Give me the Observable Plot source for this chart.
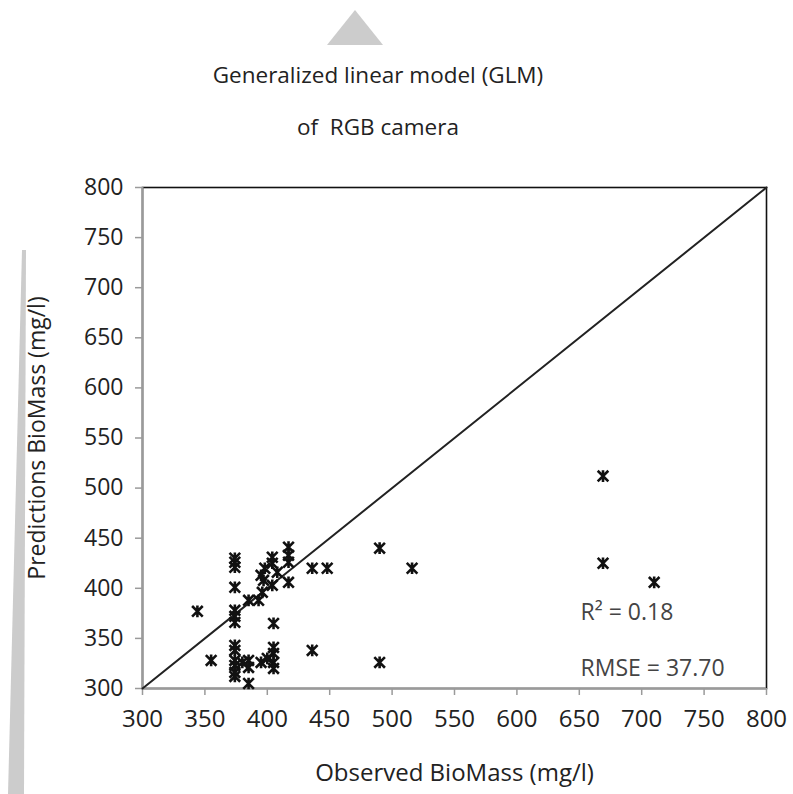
<!DOCTYPE html>
<html>
<head>
<meta charset="utf-8">
<script src="https://cdn.jsdelivr.net/npm/d3@7"></script>
<script src="https://cdn.jsdelivr.net/npm/@observablehq/plot@0.6"></script>
<style>
  html, body { margin: 0; padding: 0; background: #fff; }
  #wrap { position: relative; width: 793px; height: 794px; overflow: hidden; font-family: "Open Sans", sans-serif; }
  .title { position: absolute; left: 0; width: 756px; text-align: center; font-size: 22.5px; color: #222; }
  #deco { position: absolute; left: 0; top: 0; }
</style>
</head>
<body>
<div id="wrap">
  <svg id="deco" width="793" height="794">
    <polygon points="355,10 327,45 383,45" fill="#cccccc"></polygon>
    <polygon points="22,250 26,250 24,794 8,794" fill="#cccccc"></polygon>
  </svg>
  <div class="title" style="top:59px;">Generalized linear model (GLM)</div>
  <div class="title" style="top:111px;">of&nbsp; RGB camera</div>
  <div id="chart" style="position:absolute;left:0;top:0;"></div>
</div>
<script>
// Observed vs predicted biomass (mg/l)
const observed = [344, 355, 374, 374, 374, 374, 374, 374, 374, 374, 374, 374, 374, 374, 374,
  380, 385, 385, 385, 385, 395, 395, 396, 393, 398, 397, 404, 404, 404, 405, 405, 405, 405, 405,
  408, 417, 417, 417, 417, 400, 436, 448, 436, 490, 490, 516, 669, 669, 710];
const predicted = [377, 328, 430, 426, 421, 401, 378, 372, 366, 343, 338, 328, 323, 316, 312,
  326, 388, 328, 321, 305, 326, 413, 396, 388, 420, 408, 431, 425, 403, 365, 341, 335, 326, 320,
  416, 441, 433, 426, 406, 330, 420, 420, 338, 440, 326, 420, 512, 425, 406];
const tickValues = [300, 350, 400, 450, 500, 550, 600, 650, 700, 750, 800];
const identityLine = [300, 800];
const statsLabels = ["R² = 0.18", "RMSE = 37.70"];
const statsAnchorX = [651, 651];
const statsAnchorY = [376, 320];

const points = observed.map((o, i) => ({observed: o, predicted: predicted[i]}));
const diag = identityLine.map(v => ({observed: v, predicted: v}));
const stats = statsLabels.map((t, i) => ({text: t, x: statsAnchorX[i], y: statsAnchorY[i]}));

const starSymbol = {
  draw(context, size) {
    const r = Math.sqrt(size) * 0.5;
    context.moveTo(-r, -r); context.lineTo(r, r);
    context.moveTo(-r, r); context.lineTo(r, -r);
    context.moveTo(0, -r * 1.1); context.lineTo(0, r * 1.1);
  }
};

const chart = Plot.plot({
  width: 793,
  height: 794,
  marginLeft: 142,
  marginRight: 27,
  marginTop: 187,
  marginBottom: 106,
  style: {fontFamily: "Open Sans, sans-serif", fontSize: "24px", color: "#222", background: "transparent"},
  x: {domain: [300, 800], ticks: tickValues},
  y: {domain: [300, 800], ticks: tickValues},
  marks: [
    Plot.frame({stroke: "#111", strokeWidth: 1.6}),
    Plot.ruleY([300], {stroke: "#9a9a9a", strokeWidth: 2}),
    Plot.ruleX([300], {stroke: "#9a9a9a", strokeWidth: 2}),
    Plot.axisX({ticks: tickValues, tickSize: 7, tickPadding: 14, stroke: "#9a9a9a", strokeWidth: 1.5, fill: "#222",
      label: "Observed BioMass (mg/l)", labelAnchor: "center", labelArrow: "none", labelOffset: 92, fontSize: 24}),
    Plot.axisY({ticks: tickValues, tickSize: 7, tickPadding: 12, stroke: "#9a9a9a", strokeWidth: 1.5, fill: "#222",
      label: "Predictions BioMass (mg/l)", labelAnchor: "center", labelArrow: "none", labelOffset: 114, fontSize: 23}),
    Plot.line(diag, {x: "observed", y: "predicted", stroke: "#222", strokeWidth: 2}),
    Plot.dot(points, {x: "observed", y: "predicted", symbol: starSymbol, r: 6, fill: "none", stroke: "#111", strokeWidth: 2.6}),
    Plot.text(stats, {x: "x", y: "y", text: "text", textAnchor: "start", fontSize: 23, fill: "#444"})
  ]
});
document.getElementById("chart").appendChild(chart);
</script>
</body>
</html>
